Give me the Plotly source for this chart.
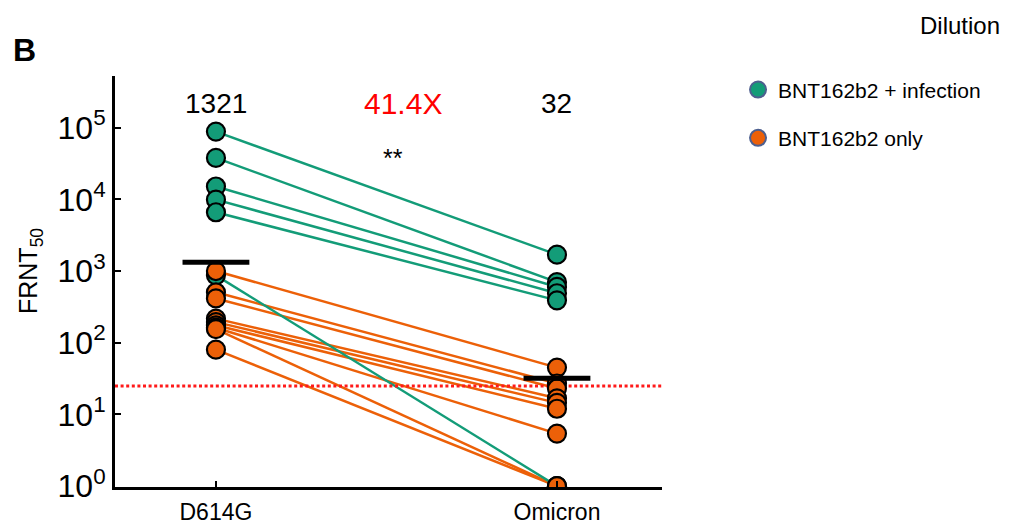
import plotly.graph_objects as go
import numpy as np

# ---------------- data ----------------
categories = ["D614G", "Omicron"]

# BNT162b2 + infection (paired D614G -> Omicron)
infect_d614g = [88000, 37800, 15100, 9900, 6600, 870]
infect_omicron = [1690, 700, 600, 490, 390, 1]

# BNT162b2 only
only_d614g = [1000, 505, 415, 217, 194, 175, 162, 155, 80]
only_omicron = [45, 27, 23, 16.8, 14.5, 12, 5.4, 1, 1]

gmt = [1321, 32]
gmt_labels = ["1321", "32"]
fold_label = "41.4X"
signif_label = "**"
lod = 25  # limit of detection (dilution)

group_names = ["BNT162b2 + infection", "BNT162b2 only"]
green = "#139c78"
orange = "#ec6008"

# ---------------- figure ----------------
font_family = "Liberation Sans, Arial, sans-serif"
x_pos = list(range(len(categories)))
x_range = [-0.296, 1.308]
y_range = [-0.012, 5.72]

fig = go.Figure()

# connecting lines: orange first, then green
for a, b in zip(only_d614g, only_omicron):
    fig.add_trace(go.Scatter(x=x_pos, y=[a, b], mode="lines",
                             line=dict(color=orange, width=2.5),
                             showlegend=False, hoverinfo="skip"))
for a, b in zip(infect_d614g, infect_omicron):
    fig.add_trace(go.Scatter(x=x_pos, y=[a, b], mode="lines",
                             line=dict(color=green, width=2.5),
                             showlegend=False, hoverinfo="skip"))

# limit of detection dotted line
fig.add_trace(go.Scatter(x=x_range, y=[lod, lod], mode="lines",
                         line=dict(color="#ff1a1a", width=3, dash="3px,2.6px"),
                         showlegend=False, hoverinfo="skip"))

# markers
fig.add_trace(go.Scatter(
    x=[x_pos[0]] * len(infect_d614g) + [x_pos[1]] * len(infect_omicron),
    y=infect_d614g + infect_omicron, mode="markers",
    marker=dict(color=green, size=18, line=dict(color="black", width=2.2)),
    showlegend=False))
fig.add_trace(go.Scatter(
    x=[x_pos[0]] * len(only_d614g) + [x_pos[1]] * len(only_omicron),
    y=only_d614g + only_omicron, mode="markers",
    marker=dict(color=orange, size=18, line=dict(color="black", width=2.2)),
    showlegend=False))

# geometric mean bars
half_w = 0.098
for xi, g in zip(x_pos, gmt):
    fig.add_trace(go.Scatter(x=[xi - half_w, xi + half_w], y=[g, g], mode="lines",
                             line=dict(color="black", width=5),
                             showlegend=False, hoverinfo="skip"))

# legend-only entries
for i, (name, col) in enumerate(zip(group_names, [green, orange])):
    fig.add_trace(go.Scatter(x=[None], y=[None], mode="markers", name=name,
                             legendgroup=f"g{i}",
                             marker=dict(color=col, size=16,
                                         line=dict(color="#4d5f8f", width=2))))

tickvals = [10 ** k for k in range(0, 6)]
ticktext = [f"10<sup>{k}</sup>" for k in range(0, 6)]

# page has an 8px body margin: figure is sized so it ends at the window edge
fig.update_layout(
    width=1018, height=516,
    margin=dict(l=107, r=364, t=68, b=37, autoexpand=False),
    paper_bgcolor="white", plot_bgcolor="white",
    font=dict(family=font_family, color="black"),
    showlegend=True,
    legend=dict(x=1.139, y=1.016, xanchor="left", yanchor="top",
                font=dict(size=21, family=font_family),
                tracegroupgap=18, bgcolor="rgba(0,0,0,0)"),
    xaxis=dict(range=x_range, tickvals=x_pos, ticktext=categories,
               showline=True, linecolor="black", linewidth=3,
               ticks="inside", ticklen=6, tickwidth=2, tickcolor="black",
               showgrid=False, zeroline=False, automargin=False,
               tickfont=dict(size=23), ticklabelstandoff=2),
    yaxis=dict(type="log", range=y_range, tickvals=tickvals, ticktext=ticktext,
               showline=True, linecolor="black", linewidth=3,
               ticks="inside", ticklen=6, tickwidth=2, tickcolor="black",
               showgrid=False, zeroline=False, automargin=False,
               tickfont=dict(size=32), ticklabelstandoff=0),
)

annots = [
    dict(x=x_pos[0], y=0.934, text=gmt_labels[0], font=dict(size=28, color="black")),
    dict(x=x_pos[1], y=0.934, text=gmt_labels[1], font=dict(size=28, color="black")),
    dict(x=0.548, y=0.934, text=fold_label, font=dict(size=30, color="#ff0000")),
    dict(x=0.52, y=0.80, text=signif_label, font=dict(size=25, color="black")),
]
for a in annots:
    fig.add_annotation(xref="x", yref="paper", showarrow=False,
                       xanchor="center", yanchor="middle", **a)

# y-axis title
fig.add_annotation(xref="paper", yref="paper", x=-0.155, y=0.526,
                   text="FRNT<sub>50</sub>", textangle=-90, showarrow=False,
                   xanchor="center", yanchor="middle",
                   font=dict(size=25, color="black"))

fig.add_annotation(xref="paper", yref="paper", x=-0.166, y=1.063, text="<b>B</b>",
                   showarrow=False, xanchor="center", yanchor="middle",
                   font=dict(size=32, color="black"))
fig.add_annotation(xref="paper", yref="paper", x=1.545, y=1.124, text="Dilution",
                   showarrow=False, xanchor="center", yanchor="middle",
                   font=dict(size=24, color="black"))

fig.write_html("out.html")
